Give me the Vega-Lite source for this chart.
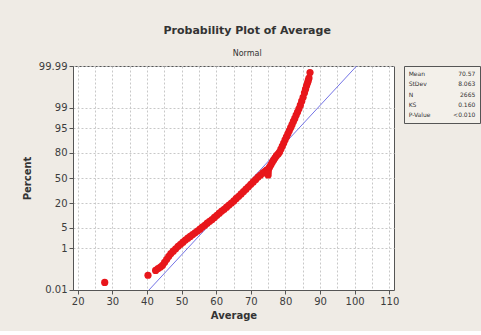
{
  "$schema": "https://vega.github.io/schema/vega-lite/v6.json",
  "background": "#efebe5",
  "padding": {"left": 21, "top": 24, "right": 2, "bottom": 10},
  "title": {
    "text": "Probability Plot of Average",
    "subtitle": "Normal",
    "font": "DejaVu Sans",
    "fontSize": 11,
    "fontWeight": "bold",
    "color": "#333333",
    "subtitleFont": "DejaVu Sans",
    "subtitleFontSize": 8,
    "subtitleColor": "#333333",
    "subtitlePadding": 14,
    "offset": 3,
    "anchor": "middle",
    "dx": -4
  },
  "spacing": 10,
  "bounds": "flush",
  "hconcat": [
    {
      "width": 321,
      "height": 224,
      "view": {"fill": "#ffffff", "stroke": "#555555"},
      "encoding": {
        "x": {
          "field": "average",
          "type": "quantitative",
          "scale": {"domain": [18.64, 111.36], "nice": false, "zero": false},
          "axis": {
            "title": "Average",
            "values": [20, 25, 30, 35, 40, 45, 50, 55, 60, 65, 70, 75, 80, 85, 90, 95, 100, 105, 110],
            "labelExpr": "datum.value % 10 == 0 ? datum.label : ''",
            "tickOpacity": {"condition": {"test": "datum.value % 10 != 0", "value": 0}, "value": 1},
            "labelOverlap": false,
            "labelFlush": false,
            "grid": true,
            "titlePadding": 4
          }
        },
        "y": {
          "field": "z",
          "type": "quantitative",
          "scale": {"domain": [-3.72, 3.72], "nice": false, "zero": false},
          "axis": {
            "title": "Percent",
            "values": [-3.719, -2.326, -1.645, -0.8416, 0, 0.8416, 1.645, 2.326, 3.719],
            "labelExpr": "datum.value < -3 ? '0.01' : datum.value < -2 ? '1' : datum.value < -1 ? '5' : datum.value < -0.5 ? '20' : datum.value < 0.5 ? '50' : datum.value < 1 ? '80' : datum.value < 2 ? '95' : datum.value < 3 ? '99' : '99.99'",
            "labelOverlap": false,
            "grid": true,
            "titlePadding": 6
          }
        }
      },
      "layer": [
        {
          "data": {"values": [
            {"average": 40.58, "z": -3.72},
            {"average": 100.56, "z": 3.72}
          ]},
          "mark": {"type": "line", "color": "#7474e6", "strokeWidth": 1, "clip": true}
        },
        {
          "data": {"values": [
            {"average": 27.8, "z": -3.47},
            {"average": 40.3, "z": -3.23},
            {"average": 42.5, "z": -3.07},
            {"average": 43.2, "z": -3.01},
            {"average": 43.9, "z": -2.96},
            {"average": 44.5, "z": -2.90},
            {"average": 45.1, "z": -2.80},
            {"average": 45.7, "z": -2.70},
            {"average": 46.3, "z": -2.60},
            {"average": 46.9, "z": -2.51},
            {"average": 47.6, "z": -2.43},
            {"average": 48.3, "z": -2.35},
            {"average": 49.0, "z": -2.27},
            {"average": 49.7, "z": -2.20},
            {"average": 50.4, "z": -2.13},
            {"average": 51.1, "z": -2.06},
            {"average": 51.8, "z": -2.00},
            {"average": 52.5, "z": -1.94},
            {"average": 53.2, "z": -1.88},
            {"average": 53.9, "z": -1.82},
            {"average": 54.6, "z": -1.76},
            {"average": 55.3, "z": -1.70},
            {"average": 56.0, "z": -1.63},
            {"average": 56.7, "z": -1.57},
            {"average": 57.4, "z": -1.50},
            {"average": 58.1, "z": -1.44},
            {"average": 58.8, "z": -1.38},
            {"average": 59.5, "z": -1.31},
            {"average": 60.2, "z": -1.24},
            {"average": 60.9, "z": -1.17},
            {"average": 61.6, "z": -1.10},
            {"average": 62.3, "z": -1.04},
            {"average": 63.0, "z": -0.97},
            {"average": 63.7, "z": -0.90},
            {"average": 64.4, "z": -0.83},
            {"average": 65.1, "z": -0.76},
            {"average": 65.8, "z": -0.68},
            {"average": 66.5, "z": -0.61},
            {"average": 67.2, "z": -0.53},
            {"average": 67.9, "z": -0.45},
            {"average": 68.6, "z": -0.37},
            {"average": 69.3, "z": -0.29},
            {"average": 70.0, "z": -0.21},
            {"average": 70.7, "z": -0.13},
            {"average": 71.4, "z": -0.05},
            {"average": 72.1, "z": 0.03},
            {"average": 72.8, "z": 0.10},
            {"average": 73.5, "z": 0.17},
            {"average": 74.1, "z": 0.22},
            {"average": 74.6, "z": 0.27},
            {"average": 75.0, "z": 0.10},
            {"average": 75.0, "z": 0.19},
            {"average": 75.1, "z": 0.28},
            {"average": 75.4, "z": 0.36},
            {"average": 75.8, "z": 0.44},
            {"average": 76.2, "z": 0.52},
            {"average": 76.6, "z": 0.60},
            {"average": 77.0, "z": 0.67},
            {"average": 77.4, "z": 0.74},
            {"average": 77.9, "z": 0.80},
            {"average": 78.3, "z": 0.86},
            {"average": 78.7, "z": 0.96},
            {"average": 79.1, "z": 1.06},
            {"average": 79.5, "z": 1.16},
            {"average": 79.9, "z": 1.27},
            {"average": 80.3, "z": 1.37},
            {"average": 80.7, "z": 1.47},
            {"average": 81.1, "z": 1.57},
            {"average": 81.5, "z": 1.67},
            {"average": 81.9, "z": 1.77},
            {"average": 82.3, "z": 1.88},
            {"average": 82.7, "z": 1.98},
            {"average": 83.1, "z": 2.09},
            {"average": 83.5, "z": 2.19},
            {"average": 83.9, "z": 2.30},
            {"average": 84.3, "z": 2.42},
            {"average": 84.7, "z": 2.55},
            {"average": 85.1, "z": 2.68},
            {"average": 85.5, "z": 2.83},
            {"average": 85.8, "z": 2.95},
            {"average": 86.1, "z": 3.06},
            {"average": 86.4, "z": 3.16},
            {"average": 86.6, "z": 3.24},
            {"average": 86.8, "z": 3.32},
            {"average": 87.1, "z": 3.50}
          ]},
          "mark": {"type": "point", "filled": true, "shape": "circle", "size": 52, "color": "#e8161b", "opacity": 1}
        }
      ]
    },
    {
      "width": 76,
      "height": 57,
      "view": {"fill": "#f3f0ea", "stroke": "#555555"},
      "data": {"values": [
        {"stat": "Mean", "value": "70.57"},
        {"stat": "StDev", "value": "8.063"},
        {"stat": "N", "value": "2665"},
        {"stat": "KS", "value": "0.160"},
        {"stat": "P-Value", "value": "<0.010"}
      ]},
      "encoding": {
        "y": {"field": "stat", "type": "nominal", "sort": null, "scale": {"padding": 0.8}, "axis": null}
      },
      "layer": [
        {
          "mark": {"type": "text", "align": "left", "font": "DejaVu Sans", "fontSize": 6, "color": "#333333"},
          "encoding": {
            "text": {"field": "stat"},
            "x": {"datum": 0, "type": "quantitative", "scale": {"domain": [-0.07, 1.07], "nice": false, "zero": false}, "axis": null}
          }
        },
        {
          "mark": {"type": "text", "align": "right", "font": "DejaVu Sans", "fontSize": 6, "color": "#333333"},
          "encoding": {
            "text": {"field": "value"},
            "x": {"datum": 1, "type": "quantitative"}
          }
        }
      ]
    }
  ],
  "config": {
    "view": {"stroke": "#555555"},
    "axis": {
      "labelFont": "DejaVu Sans",
      "labelFontSize": 10,
      "labelColor": "#3c3c3c",
      "titleFont": "DejaVu Sans",
      "titleFontSize": 10,
      "titleFontWeight": "bold",
      "titleColor": "#333333",
      "domainColor": "#555555",
      "tickColor": "#555555",
      "tickSize": 4,
      "labelPadding": 2,
      "gridColor": "#c8c8c8",
      "gridDash": [2, 2],
      "gridWidth": 1
    }
  }
}
